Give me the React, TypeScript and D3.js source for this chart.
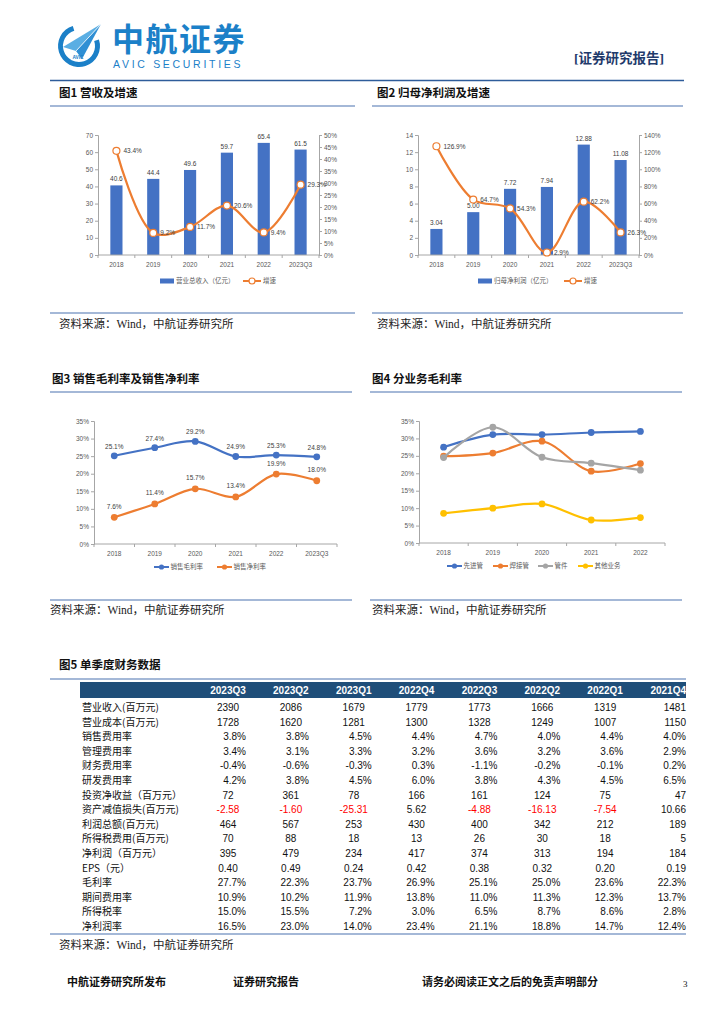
import { useEffect, useRef } from 'react';
import * as d3 from 'd3';

// ---- data ----
const years = ['2018', '2019', '2020', '2021', '2022', '2023Q3'];
const revenue = [40.6, 44.4, 49.6, 59.7, 65.4, 61.5];
const revenueGrowth = [43.4, 9.2, 11.7, 20.6, 9.4, 29.3];
const netProfit = [3.04, 5.0, 7.72, 7.94, 12.88, 11.08];
const netProfitGrowth = [126.9, 64.7, 54.3, 2.9, 62.2, 26.3];
const grossMargin = [25.1, 27.4, 29.2, 24.9, 25.3, 24.8];
const netMargin = [7.6, 11.4, 15.7, 13.4, 19.9, 18.0];

const segmentYears = ['2018', '2019', '2020', '2021', '2022'];
const segmentNames = ['先进管', '焊接管', '管件', '其他业务'];
const advancedPipe = [27.5, 31.1, 31.1, 31.7, 32.0];
const weldedPipe = [24.9, 25.8, 29.2, 20.6, 22.8];
const pipeFittings = [24.5, 33.2, 24.6, 22.9, 20.9];
const otherBusiness = [8.5, 10.0, 11.2, 6.6, 7.3];

const quarters = ['2023Q3', '2023Q2', '2023Q1', '2022Q4', '2022Q3', '2022Q2', '2022Q1', '2021Q4'];
const rowLabels = [
  '营业收入(百万元)', '营业成本(百万元)', '销售费用率', '管理费用率', '财务费用率', '研发费用率',
  '投资净收益（百万元）', '资产减值损失(百万元)', '利润总额(百万元)', '所得税费用(百万元)',
  '净利润（百万元）', 'EPS（元）', '毛利率', '期间费用率', '所得税率', '净利润率',
];
const tableValues = [
  ['2390', '2086', '1679', '1779', '1773', '1666', '1319', '1481'],
  ['1728', '1620', '1281', '1300', '1328', '1249', '1007', '1150'],
  ['3.8%', '3.8%', '4.5%', '4.4%', '4.7%', '4.0%', '4.4%', '4.0%'],
  ['3.4%', '3.1%', '3.3%', '3.2%', '3.6%', '3.2%', '3.6%', '2.9%'],
  ['-0.4%', '-0.6%', '-0.3%', '0.3%', '-1.1%', '-0.2%', '-0.1%', '0.2%'],
  ['4.2%', '3.8%', '4.5%', '6.0%', '3.8%', '4.3%', '4.5%', '6.5%'],
  ['72', '361', '78', '166', '161', '124', '75', '47'],
  ['-2.58', '-1.60', '-25.31', '5.62', '-4.88', '-16.13', '-7.54', '10.66'],
  ['464', '567', '253', '430', '400', '342', '212', '189'],
  ['70', '88', '18', '13', '26', '30', '18', '5'],
  ['395', '479', '234', '417', '374', '313', '194', '184'],
  ['0.40', '0.49', '0.24', '0.42', '0.38', '0.32', '0.20', '0.19'],
  ['27.7%', '22.3%', '23.7%', '26.9%', '25.1%', '25.0%', '23.6%', '22.3%'],
  ['10.9%', '10.2%', '11.9%', '13.8%', '11.0%', '11.3%', '12.3%', '13.7%'],
  ['15.0%', '15.5%', '7.2%', '3.0%', '6.5%', '8.7%', '8.6%', '2.8%'],
  ['16.5%', '23.0%', '14.0%', '23.4%', '21.1%', '18.8%', '14.7%', '12.4%'],
];

// ---- styles ----
const CJK = '"Noto Sans CJK SC", sans-serif';
const NUM = '"Liberation Sans", Arial, sans-serif';
const SERIF = '"Liberation Serif", "Noto Sans CJK SC", serif';
const AXIS = '#A6A6A6';
const TICK_TEXT = '#595959';
const BLUE = '#4472C4';
const ORANGE = '#ED7D31';
const GRAY = '#A5A5A5';
const YELLOW = '#FFC000';
const RULE = '#4A72B0';
const LOGO = '#1B80C8';

function styleAxis(g: any) {
  g.select('.domain').attr('stroke', AXIS);
  g.selectAll('.tick line').attr('stroke', AXIS);
  g.selectAll('.tick text').attr('fill', TICK_TEXT).attr('font-size', 6.5).attr('font-family', NUM);
}

function categoryAxis(svg: any, cats: string[], left: number, right: number, bottom: number) {
  const step = (right - left) / cats.length;
  svg.append('line')
    .attr('x1', left).attr('x2', right).attr('y1', bottom).attr('y2', bottom)
    .attr('stroke', AXIS);
  svg.selectAll(null)
    .data(d3.range(cats.length + 1))
    .enter()
    .append('line')
    .attr('x1', (i: number) => left + i * step).attr('x2', (i: number) => left + i * step)
    .attr('y1', bottom).attr('y2', bottom + 3)
    .attr('stroke', AXIS);
  svg.selectAll(null)
    .data(cats)
    .enter()
    .append('text')
    .attr('x', (_: string, i: number) => left + (i + 0.5) * step)
    .attr('y', bottom + 11.5)
    .attr('text-anchor', 'middle')
    .attr('font-size', 6.5)
    .attr('font-family', NUM)
    .attr('fill', TICK_TEXT)
    .text((d: string) => d);
}

function panelFrame(svg: any, title: string, x0: number, x1: number, titleX: number, titleY: number, ruleY: number, srcRuleY: number, srcX: number, srcY: number) {
  svg.append('text')
    .attr('x', titleX).attr('y', titleY)
    .attr('font-size', 11.5).attr('font-weight', 'bold').attr('font-family', CJK)
    .attr('fill', '#111').text(title);
  svg.append('line').attr('x1', x0).attr('x2', x1).attr('y1', ruleY).attr('y2', ruleY)
    .attr('stroke', RULE).attr('stroke-width', 1.2);
  svg.append('line').attr('x1', x0).attr('x2', x1).attr('y1', srcRuleY).attr('y2', srcRuleY)
    .attr('stroke', RULE).attr('stroke-width', 1.2);
  svg.append('text')
    .attr('x', srcX).attr('y', srcY)
    .attr('font-size', 11.5).attr('font-family', SERIF)
    .attr('fill', '#222').text('资料来源：Wind，中航证券研究所');
}

function drawCombo(svg: any, cfg: any) {
  const { left, right, top, bottom, bars, growth, yMax, yStep, y2Max, y2Step, barFmt, barName, legendX, lineLegendX } = cfg;
  const x = d3.scaleBand<string>().domain(years).range([left, right]).paddingInner(0.67).paddingOuter(0.335);
  const y = d3.scaleLinear().domain([0, yMax]).range([bottom, top]);
  const y2 = d3.scaleLinear().domain([0, y2Max]).range([bottom, top]);
  const cx = (i: number) => (x(years[i]) as number) + x.bandwidth() / 2;

  const gl = svg.append('g').attr('transform', `translate(${left},0)`)
    .call(d3.axisLeft(y).tickValues(d3.range(0, yMax + 1e-6, yStep)).tickSize(3).tickPadding(2));
  styleAxis(gl);
  const gr = svg.append('g').attr('transform', `translate(${right},0)`)
    .call(d3.axisRight(y2).tickValues(d3.range(0, y2Max + 1e-6, y2Step)).tickSize(3).tickPadding(2).tickFormat((d: any) => `${d}%`));
  styleAxis(gr);

  svg.selectAll(null)
    .data(bars)
    .enter()
    .append('rect')
    .attr('x', (_: number, i: number) => x(years[i]))
    .attr('y', (d: number) => y(d))
    .attr('width', x.bandwidth())
    .attr('height', (d: number) => bottom - y(d))
    .attr('fill', BLUE);

  categoryAxis(svg, years, left, right, bottom);

  svg.selectAll(null)
    .data(bars)
    .enter()
    .append('text')
    .attr('x', (_: number, i: number) => cx(i))
    .attr('y', (d: number) => y(d) - 4)
    .attr('text-anchor', 'middle')
    .attr('font-size', 6.5).attr('font-family', NUM).attr('fill', '#404040')
    .text((d: number) => barFmt(d));

  const line = d3.line<number>()
    .x((_, i) => cx(i))
    .y(d => y2(d))
    .curve(d3.curveCatmullRom.alpha(0.5));
  svg.append('path')
    .datum(growth)
    .attr('d', line)
    .attr('fill', 'none')
    .attr('stroke', ORANGE)
    .attr('stroke-width', 2.2);
  svg.selectAll(null)
    .data(growth)
    .enter()
    .append('circle')
    .attr('cx', (_: number, i: number) => cx(i))
    .attr('cy', (d: number) => y2(d))
    .attr('r', 3.5)
    .attr('fill', '#fff')
    .attr('stroke', ORANGE)
    .attr('stroke-width', 1.2);
  svg.selectAll(null)
    .data(growth)
    .enter()
    .append('text')
    .attr('x', (_: number, i: number) => cx(i) + 7)
    .attr('y', (d: number) => y2(d) + 2.5)
    .attr('font-size', 6.5).attr('font-family', NUM).attr('fill', '#404040')
    .text((d: number) => `${d.toFixed(1)}%`);

  // legend
  const ly = bottom + 26;
  svg.append('rect').attr('x', legendX).attr('y', ly - 2.5).attr('width', 14).attr('height', 5).attr('fill', BLUE);
  svg.append('text').attr('x', legendX + 16).attr('y', ly + 2.3)
    .attr('font-size', 6.5).attr('font-family', CJK).attr('fill', TICK_TEXT).text(barName);
  svg.append('line').attr('x1', lineLegendX).attr('x2', lineLegendX + 18).attr('y1', ly).attr('y2', ly)
    .attr('stroke', ORANGE).attr('stroke-width', 2);
  svg.append('circle').attr('cx', lineLegendX + 9).attr('cy', ly).attr('r', 3)
    .attr('fill', '#fff').attr('stroke', ORANGE).attr('stroke-width', 1.2);
  svg.append('text').attr('x', lineLegendX + 20).attr('y', ly + 2.3)
    .attr('font-size', 6.5).attr('font-family', CJK).attr('fill', TICK_TEXT).text('增速');
}

function drawLines(svg: any, cfg: any) {
  const { left, right, top, bottom, cats, series, legendXs, labels } = cfg;
  const x = d3.scalePoint<string>().domain(cats).range([left, right]).padding(0.5);
  const y = d3.scaleLinear().domain([0, 35]).range([bottom, top]);

  const gl = svg.append('g').attr('transform', `translate(${left},0)`)
    .call(d3.axisLeft(y).tickValues(d3.range(0, 35.01, 5)).tickSize(3).tickPadding(2).tickFormat((d: any) => `${d}%`));
  styleAxis(gl);
  categoryAxis(svg, cats, left, right, bottom);

  const line = d3.line<number>()
    .x((_, i) => x(cats[i]) as number)
    .y(d => y(d))
    .curve(d3.curveCatmullRom.alpha(0.5));

  series.forEach((s: any) => {
    svg.append('path')
      .datum(s.values)
      .attr('d', line)
      .attr('fill', 'none')
      .attr('stroke', s.color)
      .attr('stroke-width', 2.2);
    svg.selectAll(null)
      .data(s.values)
      .enter()
      .append('circle')
      .attr('cx', (_: number, i: number) => x(cats[i]))
      .attr('cy', (d: number) => y(d))
      .attr('r', 3.4)
      .attr('fill', s.color);
    if (labels) {
      svg.selectAll(null)
        .data(s.values)
        .enter()
        .append('text')
        .attr('x', (_: number, i: number) => x(cats[i]))
        .attr('y', (d: number) => y(d) + s.labelDy)
        .attr('text-anchor', 'middle')
        .attr('font-size', 6.5).attr('font-family', NUM).attr('fill', '#404040')
        .text((d: number) => `${d.toFixed(1)}%`);
    }
  });

  const ly = bottom + 23;
  series.forEach((s: any, i: number) => {
    const lx = legendXs[i];
    svg.append('line').attr('x1', lx).attr('x2', lx + 15).attr('y1', ly).attr('y2', ly)
      .attr('stroke', s.color).attr('stroke-width', 2);
    svg.append('circle').attr('cx', lx + 7.5).attr('cy', ly).attr('r', 2.6).attr('fill', s.color);
    svg.append('text').attr('x', lx + 16.5).attr('y', ly + 2.3)
      .attr('font-size', 6.5).attr('font-family', CJK).attr('fill', TICK_TEXT).text(s.name);
  });
}

function drawHeader(svg: any) {
  const logo = svg.append('g').attr('transform', 'translate(79,46)');
  const arc = d3.arc();
  logo.append('path')
    .attr('d', arc({ innerRadius: 16, outerRadius: 21, startAngle: 1.25, endAngle: 2 * Math.PI - 0.3 } as any))
    .attr('fill', LOGO);
  logo.append('path')
    .attr('d', 'M-16,1 L22,-22 L-3,5 Z')
    .attr('fill', '#5AAEE3');
  logo.append('path')
    .attr('d', 'M-3,5 L22,-22 L3,13 Z')
    .attr('fill', '#2F8FD4');
  logo.append('path')
    .attr('d', 'M-3,5 L22,-22')
    .attr('stroke', '#fff').attr('stroke-width', 0.8);
  logo.append('text').attr('x', -1).attr('y', 13).attr('text-anchor', 'middle')
    .attr('font-size', 4.8).attr('font-weight', 'bold').attr('font-family', NUM).attr('fill', LOGO).text('AVIC');

  svg.append('text').attr('x', 112).attr('y', 51)
    .attr('font-size', 32).attr('font-weight', 'bold').attr('font-family', CJK)
    .attr('fill', LOGO).attr('letter-spacing', 1.5).text('中航证券');
  svg.append('text').attr('x', 113).attr('y', 68)
    .attr('font-size', 10.5).attr('font-family', NUM)
    .attr('fill', LOGO).attr('letter-spacing', 2.7).text('AVIC SECURITIES');

  svg.append('text').attr('x', 574).attr('y', 63)
    .attr('font-size', 13.5).attr('font-weight', 'bold').attr('font-family', SERIF)
    .attr('fill', '#1F3A6B').text('[证券研究报告]');
  svg.append('line').attr('x1', 50).attr('x2', 684).attr('y1', 80.5).attr('y2', 80.5)
    .attr('stroke', '#2E5C9A').attr('stroke-width', 1.6);
}

function drawTable(svg: any) {
  const col = d3.scalePoint<string>().domain(quarters).range([228, 668]);
  const last = quarters.length - 1;
  const rowY = (r: number) => 711 + r * 14.6;

  svg.append('text').attr('x', 59).attr('y', 669)
    .attr('font-size', 11.5).attr('font-weight', 'bold').attr('font-family', CJK)
    .attr('fill', '#111').text('图5 单季度财务数据');
  svg.append('line').attr('x1', 50).attr('x2', 686).attr('y1', 679).attr('y2', 679)
    .attr('stroke', RULE).attr('stroke-width', 1.2);
  svg.append('rect').attr('x', 80).attr('y', 682).attr('width', 606).attr('height', 16).attr('fill', '#1F4E79');

  svg.selectAll(null)
    .data(quarters)
    .enter()
    .append('text')
    .attr('x', (d: string, i: number) => (i === last ? 686 : col(d)))
    .attr('y', 694)
    .attr('text-anchor', (_: string, i: number) => (i === last ? 'end' : 'middle'))
    .attr('font-size', 10).attr('font-weight', 'bold').attr('font-family', NUM).attr('fill', '#fff')
    .text((d: string) => d);

  svg.selectAll(null)
    .data(rowLabels)
    .enter()
    .append('text')
    .attr('x', 82)
    .attr('y', (_: string, r: number) => rowY(r))
    .attr('font-size', 10).attr('font-family', CJK).attr('fill', '#111')
    .text((d: string) => d);

  tableValues.forEach((row, r) => {
    svg.selectAll(null)
      .data(row)
      .enter()
      .append('text')
      .attr('x', (d: string, i: number) => {
        if (i === last) return 686;
        if (d.endsWith('%')) return (col(quarters[i]) as number) + 18;
        return col(quarters[i]);
      })
      .attr('y', rowY(r))
      .attr('text-anchor', (d: string, i: number) => (i === last || d.endsWith('%') ? 'end' : 'middle'))
      .attr('font-size', 10).attr('font-family', NUM)
      .attr('fill', (d: string) => (d.startsWith('-') && !d.endsWith('%') ? '#FF0000' : '#111'))
      .text((d: string) => d);
  });

  svg.append('line').attr('x1', 50).attr('x2', 686).attr('y1', 934).attr('y2', 934)
    .attr('stroke', RULE).attr('stroke-width', 1.2);
  svg.append('text').attr('x', 59).attr('y', 949)
    .attr('font-size', 11.5).attr('font-family', SERIF)
    .attr('fill', '#222').text('资料来源：Wind，中航证券研究所');
}

function drawFooter(svg: any) {
  const items = [
    { x: 67, t: '中航证券研究所发布' },
    { x: 233, t: '证券研究报告' },
    { x: 422, t: '请务必阅读正文之后的免责声明部分' },
  ];
  items.forEach(it => {
    svg.append('text').attr('x', it.x).attr('y', 986)
      .attr('font-size', 11).attr('font-weight', 'bold').attr('font-family', CJK)
      .attr('fill', '#111').text(it.t);
  });
  svg.append('text').attr('x', 683).attr('y', 987)
    .attr('font-size', 9).attr('font-family', SERIF).attr('fill', '#111').text('3');
}

const App = () => {
  const ref = useRef<SVGSVGElement>(null);

  useEffect(() => {
    const svg = d3.select(ref.current);
    svg.selectAll('*').remove();
    svg.append('rect').attr('width', 724).attr('height', 1024).attr('fill', '#fff');

    drawHeader(svg);

    // Fig 1
    panelFrame(svg, '图1  营收及增速', 50, 355, 59, 97, 106, 313, 59, 327.5);
    drawCombo(svg, {
      left: 98, right: 319, top: 135, bottom: 255,
      bars: revenue, growth: revenueGrowth,
      yMax: 70, yStep: 10, y2Max: 50, y2Step: 5,
      barFmt: d3.format('.1f'), barName: '营业总收入（亿元）',
      legendX: 160, lineLegendX: 243,
    });

    // Fig 2
    panelFrame(svg, '图2  归母净利润及增速', 372, 683, 377, 97, 106, 313, 377, 327.5);
    drawCombo(svg, {
      left: 418, right: 639, top: 135, bottom: 255,
      bars: netProfit, growth: netProfitGrowth,
      yMax: 14, yStep: 2, y2Max: 140, y2Step: 20,
      barFmt: d3.format('.2f'), barName: '归母净利润（亿元）',
      legendX: 478, lineLegendX: 564,
    });

    // Fig 3
    panelFrame(svg, '图3  销售毛利率及销售净利率', 50, 352, 52, 383, 392, 600, 50, 614);
    drawLines(svg, {
      left: 94, right: 337, top: 421, bottom: 544,
      cats: years, labels: true,
      series: [
        { name: '销售毛利率', values: grossMargin, color: BLUE, labelDy: -7 },
        { name: '销售净利率', values: netMargin, color: ORANGE, labelDy: -8.5 },
      ],
      legendXs: [154, 217],
    });

    // Fig 4
    panelFrame(svg, '图4  分业务毛利率', 370, 682, 372, 383, 392, 600, 372, 614);
    drawLines(svg, {
      left: 419, right: 665, top: 421, bottom: 543,
      cats: segmentYears, labels: false,
      series: [
        { name: segmentNames[0], values: advancedPipe, color: BLUE },
        { name: segmentNames[1], values: weldedPipe, color: ORANGE },
        { name: segmentNames[2], values: pipeFittings, color: GRAY },
        { name: segmentNames[3], values: otherBusiness, color: YELLOW },
      ],
      legendXs: [447, 493, 538, 578],
    });

    drawTable(svg);
    drawFooter(svg);
  }, []);

  return (
    <svg
      ref={ref}
      width={724}
      height={1024}
      style={{ position: 'absolute', left: 0, top: 0, display: 'block' }}
    />
  );
};

export default App;
